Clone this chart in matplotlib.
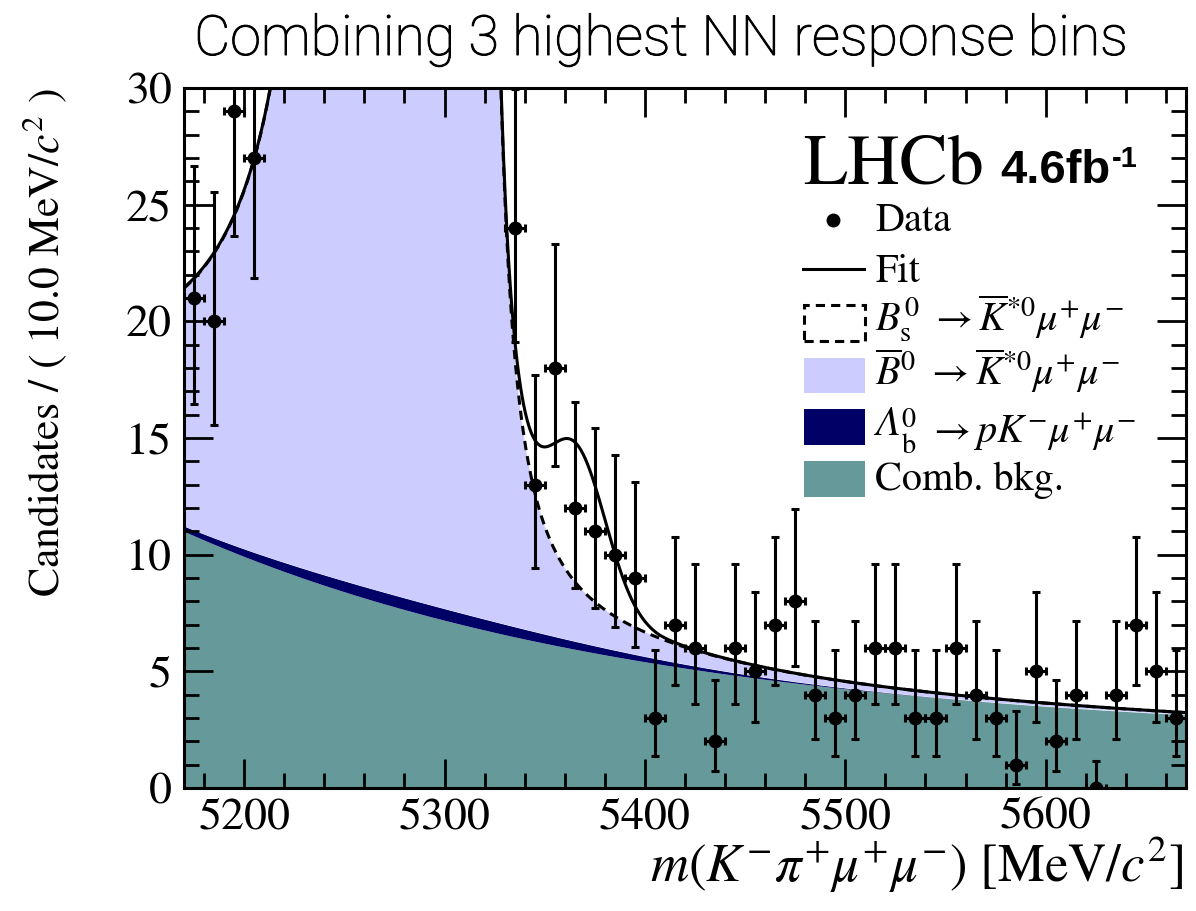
#!/usr/bin/env python3
"""LHCb-style mass fit: combining 3 highest NN response bins."""

import math

import matplotlib

matplotlib.use("Agg")
import matplotlib.pyplot as plt
from matplotlib import patheffects
from matplotlib.patches import Rectangle
from matplotlib.ticker import MultipleLocator
import numpy as np

LAVENDER = "#ccccff"
NAVY = "#000066"
TEAL = "#669999"
INK = "black"

# binned data: 10 MeV/c^2 bins, 5170-5670
BIN_CENTRES = [
    5175, 5185, 5195, 5205, 5215, 5225, 5235, 5245, 5255, 5265,
    5275, 5285, 5295, 5305, 5315, 5325, 5335, 5345, 5355, 5365,
    5375, 5385, 5395, 5405, 5415, 5425, 5435, 5445, 5455, 5465,
    5475, 5485, 5495, 5505, 5515, 5525, 5535, 5545, 5555, 5565,
    5575, 5585, 5595, 5605, 5615, 5625, 5635, 5645, 5655, 5665,
]
# bins 5215-5325 sit above the plotted range
COUNTS = [
    21, 20, 29, 27, 38, 41, 62, 150, 410, 790,
    1110, 1130, 805, 400, 150, 45, 24, 13, 18, 12,
    11, 10, 9, 3, 7, 6, 2, 6, 5, 7,
    8, 4, 3, 4, 6, 6, 3, 3, 6, 4,
    3, 1, 5, 2, 4, 0, 4, 7, 5, 3,
]
BIN_WIDTH = 10.0

# fitted components (per 10 MeV/c^2)
B0_PARAMS = dict(height=1173.0, mean=5280.0, sigma=17.0, alpha_l=2.3, n_l=0.83, alpha_r=2.65, n_r=1.7)
BS_PARAMS = dict(height=6.0, mean=5366.0, sigma=15.0, alpha_l=2.3, n_l=0.83, alpha_r=2.65, n_r=1.7)
LB_PARAMS = dict(height=0.5, mean=5285.0, sigma=90.0)
COMB_PARAMS = dict(const=2.1, amp=8.9, slope=0.0043, start=5170.0)

X_RANGE = (5170, 5670)
Y_RANGE = (0, 30)


def crystal_ball(m, height, mean, sigma, alpha_l, n_l, alpha_r, n_r):
    t = (m - mean) / sigma
    out = np.exp(-0.5 * t**2)
    left = t < -alpha_l
    a_l = (n_l / alpha_l) ** n_l * np.exp(-0.5 * alpha_l**2)
    b_l = n_l / alpha_l - alpha_l
    out[left] = a_l * (b_l - t[left]) ** (-n_l)
    right = t > alpha_r
    a_r = (n_r / alpha_r) ** n_r * np.exp(-0.5 * alpha_r**2)
    b_r = n_r / alpha_r - alpha_r
    out[right] = a_r * (b_r + t[right]) ** (-n_r)
    return height * out


def gauss(m, height, mean, sigma):
    return height * np.exp(-0.5 * ((m - mean) / sigma) ** 2)


def comb(m, const, amp, slope, start):
    return const + amp * np.exp(-slope * (m - start))


def poisson_cdf(k, mu):
    if k < 0:
        return 0.0
    return sum(math.exp(-mu + i * math.log(mu) - math.lgamma(i + 1)) for i in range(k + 1))


def bisect(func, lo, hi, target):
    # func decreasing in mu
    for _ in range(80):
        mid = 0.5 * (lo + hi)
        if func(mid) > target:
            lo = mid
        else:
            hi = mid
    return 0.5 * (lo + hi)


def poisson_interval(n, cl=0.6827):
    if n == 0:
        return 0.0, -math.log(1 - cl)
    tail = 0.5 * (1 - cl)
    top = n + 10 * math.sqrt(n) + 10
    upper = bisect(lambda mu: poisson_cdf(n, mu), n, top, tail)
    lower = bisect(lambda mu: poisson_cdf(n - 1, mu), 1e-9, n, 1 - tail)
    return n - lower, upper - n


def main():
    plt.rcParams.update(
        {
            "font.family": "STIXGeneral",
            "mathtext.fontset": "stix",
            "font.size": 30,
            "axes.linewidth": 2.2,
            "text.color": INK,
        }
    )
    fig = plt.figure(figsize=(11.96, 9.11), dpi=100)
    ax = fig.add_axes([184 / 1196, 1 - 788 / 911, 1002 / 1196, 700 / 911])

    m = np.linspace(X_RANGE[0], X_RANGE[1], 3001)
    bkg = comb(m, **COMB_PARAMS)
    lb = gauss(m, **LB_PARAMS)
    b0 = crystal_ball(m, **B0_PARAMS)
    bs = crystal_ball(m, **BS_PARAMS)
    s1 = bkg
    s2 = s1 + lb
    s3 = s2 + b0
    total = s3 + bs

    ax.fill_between(m, 0, s1, color=TEAL, lw=0, zorder=1)
    ax.fill_between(m, s1, s2, color=NAVY, lw=0, zorder=1)
    ax.fill_between(m, s2, s3, color=LAVENDER, lw=0, zorder=1)
    ax.plot(m, s3, color=INK, lw=2.2, ls=(0, (3, 2)), zorder=2)
    ax.plot(m, total, color=INK, lw=2.2, zorder=3)

    counts = np.array(COUNTS, dtype=float)
    errs = np.array([poisson_interval(int(c)) for c in COUNTS]).T
    ax.errorbar(
        BIN_CENTRES, counts, yerr=errs, xerr=BIN_WIDTH / 2, fmt="o", color=INK,
        ms=9, elinewidth=2.2, capsize=2.8, capthick=2.2, zorder=4, clip_on=True,
    )

    ax.set_xlim(*X_RANGE)
    ax.set_ylim(*Y_RANGE)
    ax.xaxis.set_major_locator(MultipleLocator(100))
    ax.xaxis.set_minor_locator(MultipleLocator(20))
    ax.yaxis.set_major_locator(MultipleLocator(5))
    ax.yaxis.set_minor_locator(MultipleLocator(1))
    ax.tick_params(which="both", direction="in", top=True, right=True, width=2.0, labelsize=33)
    ax.tick_params(which="major", length=21)
    ax.tick_params(which="minor", length=11)
    ax.tick_params(axis="y", pad=9)
    ax.tick_params(axis="x", pad=7)

    fig.text(45 / 1196, 1 - 88 / 911, r"Candidates / ( 10.0 MeV/$c^2$ )", rotation=90,
             ha="center", va="top", fontsize=31.5)
    fig.text(1183 / 1196, 1 - 882 / 911, r"$m(K^{-}\pi^{+}\mu^{+}\mu^{-})$ [MeV/$c^2$]",
             ha="right", va="baseline", fontsize=38)
    fig.text(660 / 1196, 1 - 55 / 911, "Combining 3 highest NN response bins",
             ha="center", va="baseline", fontsize=40, family=["Roboto", "DejaVu Sans"],
             fontweight="light",
             path_effects=[patheffects.withStroke(linewidth=0.7, foreground=INK)])

    # LHCb label
    ax.text(0.618, 0.864, "LHCb", transform=ax.transAxes, fontsize=52, va="baseline")
    lumi = ax.text(0.815, 0.864, "4.6fb", transform=ax.transAxes, fontsize=34,
                   family=["Liberation Sans", "DejaVu Sans"], fontweight="bold", va="baseline")
    ax.annotate("-1", xy=(1.0, 1.0), xycoords=lumi, xytext=(1, 3), textcoords="offset points",
                fontsize=21, family=["Liberation Sans", "DejaVu Sans"], fontweight="bold",
                ha="left", va="top")

    # legend, drawn by hand in axes coordinates
    tx = 0.690
    ax.plot([0.648], [0.811], "o", color=INK, ms=9, transform=ax.transAxes, clip_on=False)
    ax.text(tx, 0.796, "Data", transform=ax.transAxes, fontsize=29, va="baseline")
    ax.plot([0.618, 0.679], [0.741, 0.741], color=INK, lw=2.2, transform=ax.transAxes)
    ax.text(tx, 0.723, "Fit", transform=ax.transAxes, fontsize=29, va="baseline")
    boxes = [
        (0.639, dict(fill=False, edgecolor=INK, lw=2.2, ls=(0, (3, 2))), 0.652),
        (0.564, dict(facecolor=LAVENDER, edgecolor="none"), 0.576),
        (0.490, dict(facecolor=NAVY, edgecolor="none"), 0.504),
        (0.416, dict(facecolor=TEAL, edgecolor="none"), 0.426),
    ]
    for y0, style, _ in boxes:
        ax.add_patch(Rectangle((0.619, y0), 0.061, 0.051, transform=ax.transAxes, **style))
    ax.text(tx, boxes[0][2], r"$B^0_\mathrm{s}\ \rightarrow \overline{K}^{*0}\mu^{+}\mu^{-}$",
            transform=ax.transAxes, fontsize=29, va="baseline")
    ax.text(tx, boxes[1][2], r"$\overline{B}^0\ \rightarrow \overline{K}^{*0}\mu^{+}\mu^{-}$",
            transform=ax.transAxes, fontsize=29, va="baseline")
    lam = ax.text(tx, boxes[2][2], "Λ", style="italic", transform=ax.transAxes,
                  fontsize=29, va="baseline")
    ax.annotate(r"${}^{0}_{\mathrm{b}}\ \rightarrow pK^{-}\mu^{+}\mu^{-}$", xy=(1.0, 0.0),
                xycoords=lam, xytext=(0.5, 0), textcoords="offset points",
                fontsize=29, va="baseline", ha="left")
    ax.text(tx, boxes[3][2], "Comb. bkg.", transform=ax.transAxes, fontsize=29, va="baseline")

    fig.savefig("out.png", dpi=100)
    plt.close(fig)


if __name__ == "__main__":
    main()
